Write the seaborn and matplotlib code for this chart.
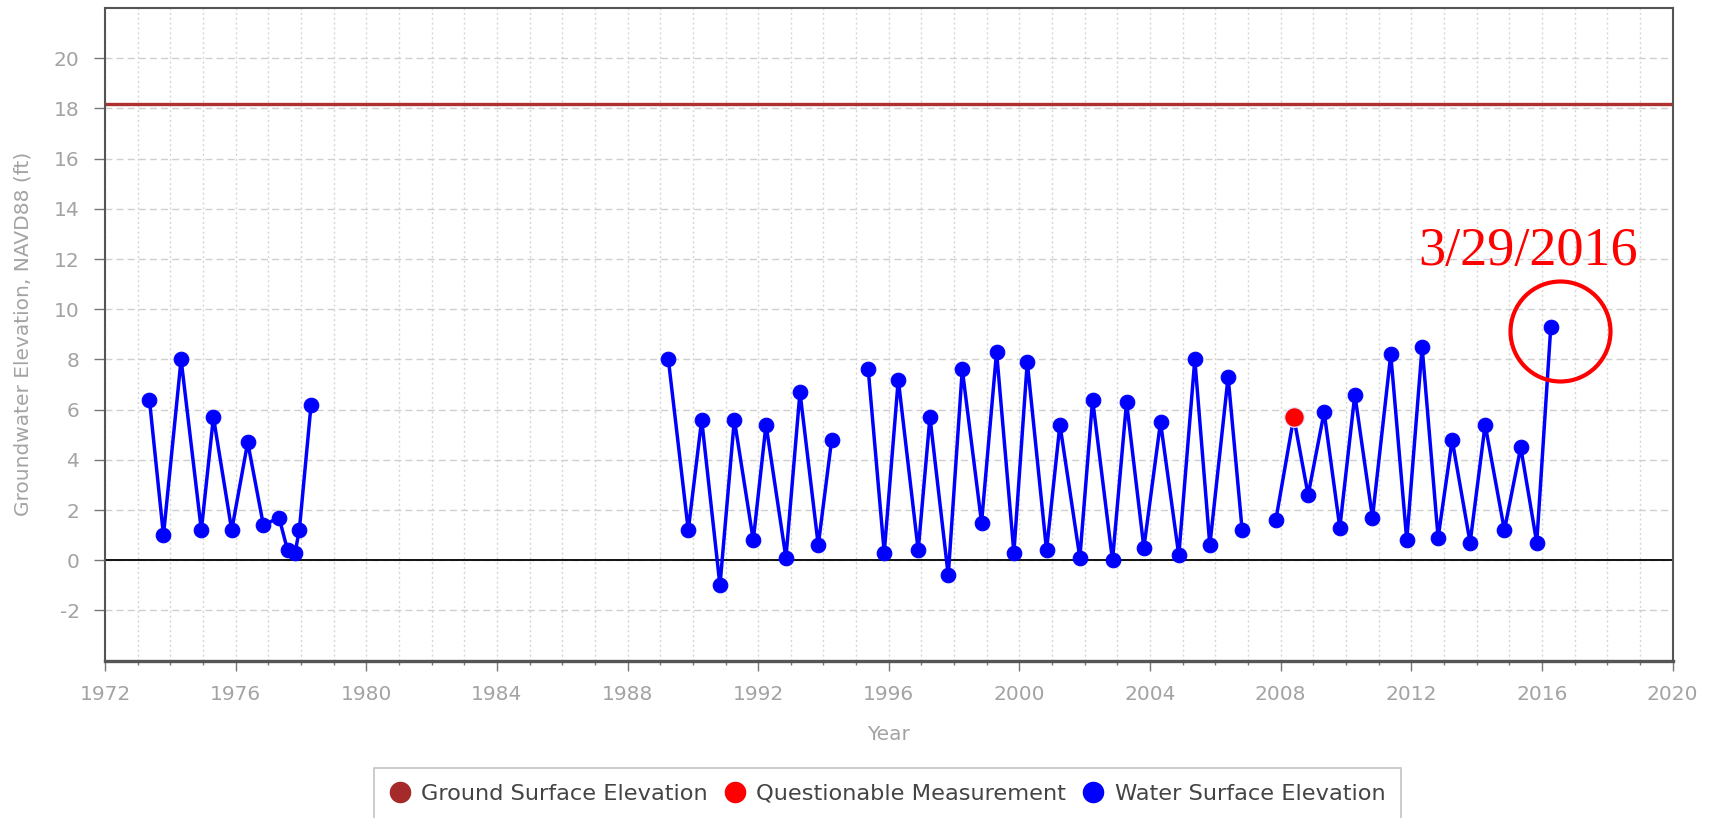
import numpy as np
import pandas as pd
import matplotlib
matplotlib.use("Agg")
import matplotlib.pyplot as plt
from matplotlib.lines import Line2D
from matplotlib.ticker import MultipleLocator
import seaborn as sns

# ---- data ----
years_seg0 = [1973.36, 1973.79, 1974.33, 1974.95, 1975.32, 1975.88, 1976.37, 1976.85,
              1977.33, 1977.59, 1977.82, 1977.95, 1978.31]
elev_seg0 = [6.4, 1.0, 8.0, 1.2, 5.7, 1.2, 4.7, 1.4, 1.7, 0.4, 0.3, 1.2, 6.2]

years_seg1 = [1989.25, 1989.86, 1990.27, 1990.83, 1991.27, 1991.85, 1992.24, 1992.85,
              1993.28, 1993.84, 1994.25]
elev_seg1 = [8.0, 1.2, 5.6, -1.0, 5.6, 0.8, 5.4, 0.1, 6.7, 0.6, 4.8]

years_seg2 = [1995.37, 1995.86, 1996.29, 1996.90, 1997.26, 1997.82, 1998.25, 1998.84,
              1999.30, 1999.83, 2000.24, 2000.83, 2001.24, 2001.85, 2002.24, 2002.85,
              2003.28, 2003.81, 2004.32, 2004.88, 2005.37, 2005.83, 2006.39, 2006.82]
elev_seg2 = [7.6, 0.3, 7.2, 0.4, 5.7, -0.6, 7.6, 1.5, 8.3, 0.3, 7.9, 0.4, 5.4, 0.1,
             6.4, 0.0, 6.3, 0.5, 5.5, 0.2, 8.0, 0.6, 7.3, 1.2]

years_seg3 = [2007.85, 2008.40, 2008.84, 2009.33, 2009.81, 2010.27, 2010.81, 2011.37,
              2011.86, 2012.33, 2012.82, 2013.25, 2013.80, 2014.26, 2014.85, 2015.35,
              2015.84, 2016.27]
elev_seg3 = [1.6, 5.7, 2.6, 5.9, 1.3, 6.6, 1.7, 8.2, 0.8, 8.5, 0.9, 4.8, 0.7, 5.4,
             1.2, 4.5, 0.7, 9.3]

questionable_years = [2008.40]
questionable_elev = [5.7]

ground_surface_elev = 18.17

x_ticks = [1972, 1976, 1980, 1984, 1988, 1992, 1996, 2000, 2004, 2008, 2012, 2016, 2020]
y_ticks = [-2, 0, 2, 4, 6, 8, 10, 12, 14, 16, 18, 20]
legend_labels = ["Ground Surface Elevation", "Questionable Measurement", "Water Surface Elevation"]
annot_text = "3/29/2016"

# ---- build tables ----
segs = [(years_seg0, elev_seg0), (years_seg1, elev_seg1),
        (years_seg2, elev_seg2), (years_seg3, elev_seg3)]
water = pd.concat([pd.DataFrame({"Year": y, "Elevation": e, "segment": i})
                   for i, (y, e) in enumerate(segs)], ignore_index=True)
quest = pd.DataFrame({"Year": questionable_years, "Elevation": questionable_elev})

sns.set_theme(style="white")
plt.rcParams["font.family"] = ["DejaVu Sans"]

W, H = 1713, 818
fig = plt.figure(figsize=(W / 100, H / 100), dpi=100)
ax_left, ax_right, ax_top, ax_bottom = 105, 1672.6, 8, 660.7
ax = fig.add_axes([ax_left / W, 1 - ax_bottom / H,
                   (ax_right - ax_left) / W, (ax_bottom - ax_top) / H])

GREY = "#a3a3a3"

# grids
ax.set_xlim(1972, 2020)
ax.set_ylim(-4, 22)
ax.xaxis.set_major_locator(matplotlib.ticker.FixedLocator(x_ticks))
ax.xaxis.set_minor_locator(MultipleLocator(1))
ax.yaxis.set_major_locator(matplotlib.ticker.FixedLocator(y_ticks))
ax.grid(False)
ax.grid(which="major", axis="y", color="#cfcfcf", linestyle=(0, (5, 3)), linewidth=1.0, zorder=0)
ax.grid(which="both", axis="x", color="#d6d6d6", linestyle=(0, (1.5, 2)), linewidth=1.0, zorder=0)

# reference lines
ax.axhline(0, color="#111111", linewidth=1.4, zorder=1)
ax.axhline(ground_surface_elev, color="#B03030", linewidth=2.4, zorder=1)

# water surface series
sns.lineplot(data=water, x="Year", y="Elevation", units="segment", estimator=None,
             color="#0000FF", linewidth=2.5, marker="o", markersize=10.5,
             markeredgecolor="#0000FF", markeredgewidth=0.8, ax=ax, zorder=3,
             legend=False)
sns.scatterplot(data=quest, x="Year", y="Elevation", color="#FF0000", s=200,
                edgecolor="#dfe8ff", linewidth=0.9, ax=ax, zorder=4, legend=False)

# annotation (circle + date)
ax.plot([2016.55], [9.13], marker="o", markersize=72, markerfacecolor="none",
        markeredgecolor="#FF0000", markeredgewidth=3.0, zorder=5, clip_on=False)
ax.text(2015.57, 12.3, annot_text, color="#FF0000", fontsize=39,
        family=["Liberation Serif", "DejaVu Serif"], ha="center", va="center", zorder=5)

# axes styling
for side in ["left", "right", "top"]:
    ax.spines[side].set_color("#555555")
    ax.spines[side].set_linewidth(1.5)
ax.spines["bottom"].set_color("#555555")
ax.spines["bottom"].set_linewidth(2.4)

ax.tick_params(axis="y", which="major", length=7.7, width=1.0, color="#777777",
               labelsize=14.5, labelcolor=GREY, pad=10.5, left=True)
ax.tick_params(axis="x", which="major", length=7.2, width=1.0, color="#777777",
               labelsize=14.5, labelcolor=GREY, pad=10.5, bottom=True)
ax.tick_params(axis="x", which="minor", length=3, width=1.0, color="#777777", bottom=True)
ax.set_xticklabels([str(t) for t in x_ticks])
ax.set_yticklabels([str(t) for t in y_ticks])

ax.set_xlabel("Year", fontsize=14.5, color=GREY)
ax.set_ylabel("Groundwater Elevation, NAVD88 (ft)", fontsize=14.5, color=GREY)
ax.xaxis.set_label_coords(0.5, -(735 - ax_bottom) / (ax_bottom - ax_top))
ax.xaxis.label.set_va("center")
ax.yaxis.set_label_coords(-(ax_left - 23) / (ax_right - ax_left), 0.5)
ax.yaxis.label.set_va("center")

# legend
handles = [
    Line2D([], [], linestyle="none", marker="o", markersize=14.5, markerfacecolor="#A52A2A",
           markeredgecolor="#A52A2A"),
    Line2D([], [], linestyle="none", marker="o", markersize=14.5, markerfacecolor="#FF0000",
           markeredgecolor="#FF0000"),
    Line2D([], [], linestyle="none", marker="o", markersize=14.5, markerfacecolor="#0000FF",
           markeredgecolor="#0000FF"),
]
leg = fig.legend(handles, legend_labels, loc="upper center",
                 bbox_to_anchor=(887.5 / W, 1 - 768 / H), ncol=3, frameon=True,
                 fontsize=16.2, handlelength=0.9, handletextpad=0.5, columnspacing=0.75,
                 borderpad=0.7, borderaxespad=0.0, fancybox=False, labelcolor="#444444")
leg.get_frame().set_edgecolor("#b5b5b5")
leg.get_frame().set_linewidth(1.2)

fig.savefig("out.png", dpi=100)
